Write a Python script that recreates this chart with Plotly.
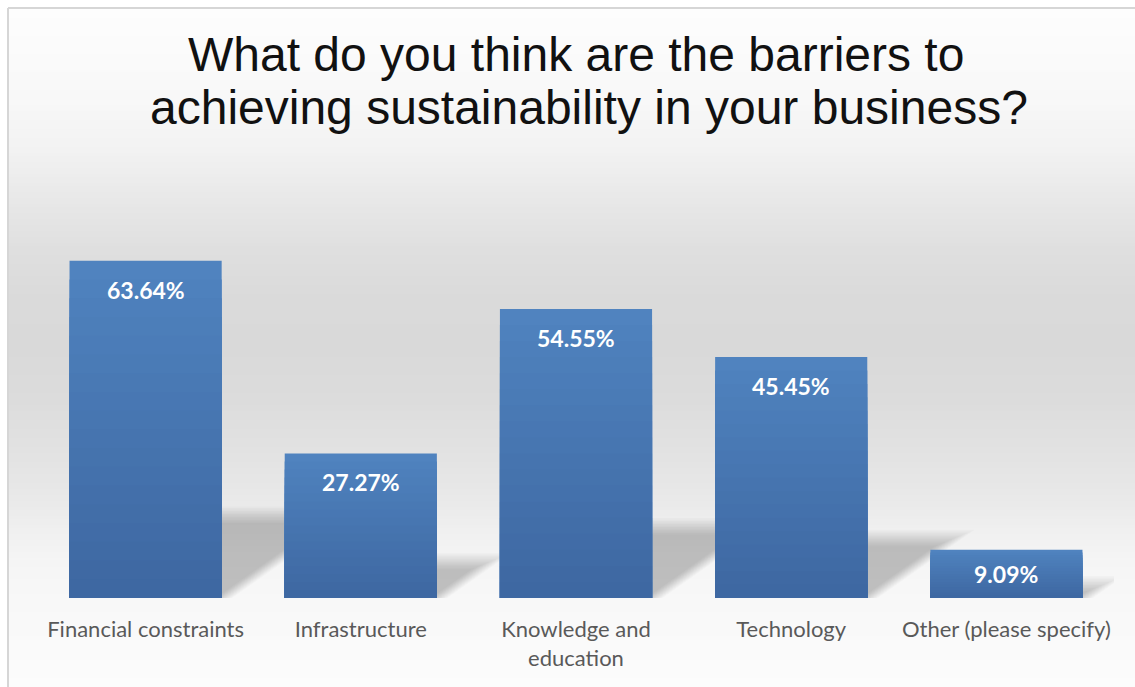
import numpy as np
import plotly.graph_objects as go

# Survey results
categories = ["Financial constraints", "Infrastructure", "Knowledge and<br>education",
              "Technology", "Other (please specify)"]
values = [63.64, 27.27, 54.55, 45.45, 9.09]
value_labels = ["63.64%", "27.27%", "54.55%", "45.45%", "9.09%"]
title_lines = ["What do you think are the barriers to",
               "achieving sustainability in your business?"]

# Canvas / plot-area geometry (pixels)
W, H = 1135, 687
ML, MR, MT, MB = 38, 21, 227, 89
PW, PH = W - ML - MR, H - MT - MB
Y_MAX = 70.0
PX_PER_Y = PH / Y_MAX
PX_PER_X = PW / 5.0
BARGAP = 0.293
HALF_W = (1 - BARGAP) / 2


def paper_x(p):
    return (p - ML) / PW


def paper_y(p):
    return 1 - (p - MT) / PH


fig = go.Figure()

# Bars drawn as stacked overlay layers to get a top-to-bottom shading
top_rgb = np.array([80, 131, 191])
bot_rgb = np.array([62, 104, 162])
N_LAYERS = 18
xs = list(range(len(categories)))
for k in range(N_LAYERS):
    frac = 1 - k / N_LAYERS
    c = top_rgb + (bot_rgb - top_rgb) * (k / (N_LAYERS - 1))
    fig.add_trace(go.Bar(
        x=xs, y=[v * frac for v in values],
        marker=dict(color="rgb(%d,%d,%d)" % tuple(c.astype(int)),
                    line=dict(width=0)),
        width=1 - BARGAP, hoverinfo="skip", showlegend=False,
    ))

shapes = []

# Vertical background gradient
prof_y = [8, 100, 150, 200, 250, 300, 350, 400, 450, 500, 530, 560, 600, 650, 687]
prof_g = [253, 248, 242, 232, 223, 218, 217, 220, 226, 233, 240, 245, 248, 250, 252]
step = 3
for yy in range(9, H, step):
    g = int(round(np.interp(yy + step / 2, prof_y, prof_g)))
    shapes.append(dict(type="rect", xref="paper", yref="paper", layer="below",
                       x0=paper_x(9), x1=paper_x(W + 2),
                       y0=paper_y(yy + step + 0.5), y1=paper_y(yy),
                       fillcolor="rgb(%d,%d,%d)" % (g, g, g), line=dict(width=0)))

# Outer frame (top and left edges)
shapes.append(dict(type="line", xref="paper", yref="paper", layer="above",
                   x0=paper_x(8), x1=paper_x(W + 2), y0=paper_y(8), y1=paper_y(8),
                   line=dict(color="#d6d6d6", width=2)))
shapes.append(dict(type="line", xref="paper", yref="paper", layer="above",
                   x0=paper_x(8), x1=paper_x(8), y0=paper_y(8), y1=paper_y(H + 2),
                   line=dict(color="#d6d6d6", width=2)))

# Soft perspective shadows cast behind each bar
SHADOW_RATIO = 0.24
SKEW = 1.42
BLUR_STEPS = np.arange(-6, 12, 1.5)  # edge offsets in px
for i, v in enumerate(values):
    hs_px = v * SHADOW_RATIO * PX_PER_Y
    for e in BLUR_STEPS[::-1]:
        h_e = max(hs_px + e, 1.0)
        top = h_e / PX_PER_Y
        dx = SKEW * h_e / PX_PER_X
        ex = e / PX_PER_X
        x0 = i - HALF_W
        x1 = i + HALF_W + ex
        path = "M %f,0 L %f,0 L %f,%f L %f,%f Z" % (
            x0, x1, x1 + dx, top, x0 + dx, top)
        shapes.append(dict(type="path", xref="x", yref="y", layer="below",
                           path=path, fillcolor="rgba(0,0,0,0.018)",
                           line=dict(width=0)))

fig.update_layout(shapes=shapes)

annotations = []
# Value labels inside the top of each bar
for i, (v, lab) in enumerate(zip(values, value_labels)):
    annotations.append(dict(
        x=i, y=v, xref="x", yref="y", text="<b>%s</b>" % lab, showarrow=False,
        yanchor="middle", yshift=-min(29.0, v * PX_PER_Y / 2),
        font=dict(family="Lato, Open Sans, sans-serif", size=23, color="white")))

# Two-line title
for txt, cx, cy in zip(title_lines, [576, 589], [54, 107]):
    annotations.append(dict(
        x=paper_x(cx), y=paper_y(cy), xref="paper", yref="paper", text=txt,
        showarrow=False, xanchor="center", yanchor="middle",
        font=dict(family="Liberation Sans, Arial, sans-serif", size=48,
                  color="#111111")))

fig.update_layout(
    annotations=annotations,
    width=W, height=H,
    margin=dict(l=ML, r=MR, t=MT, b=MB, pad=0),
    paper_bgcolor="white",
    plot_bgcolor="rgba(0,0,0,0)",
    barmode="overlay",
    bargap=BARGAP,
    xaxis=dict(tickmode="array", tickvals=xs, ticktext=categories,
               range=[-0.5, 4.5], showgrid=False, zeroline=False,
               showline=False, ticks="", ticklabelstandoff=16,
               tickfont=dict(family="Lato, Open Sans, sans-serif", size=22,
                             color="#595959")),
    yaxis=dict(range=[0, Y_MAX], visible=False, showgrid=False, zeroline=False),
)

fig.write_html("out.html")
